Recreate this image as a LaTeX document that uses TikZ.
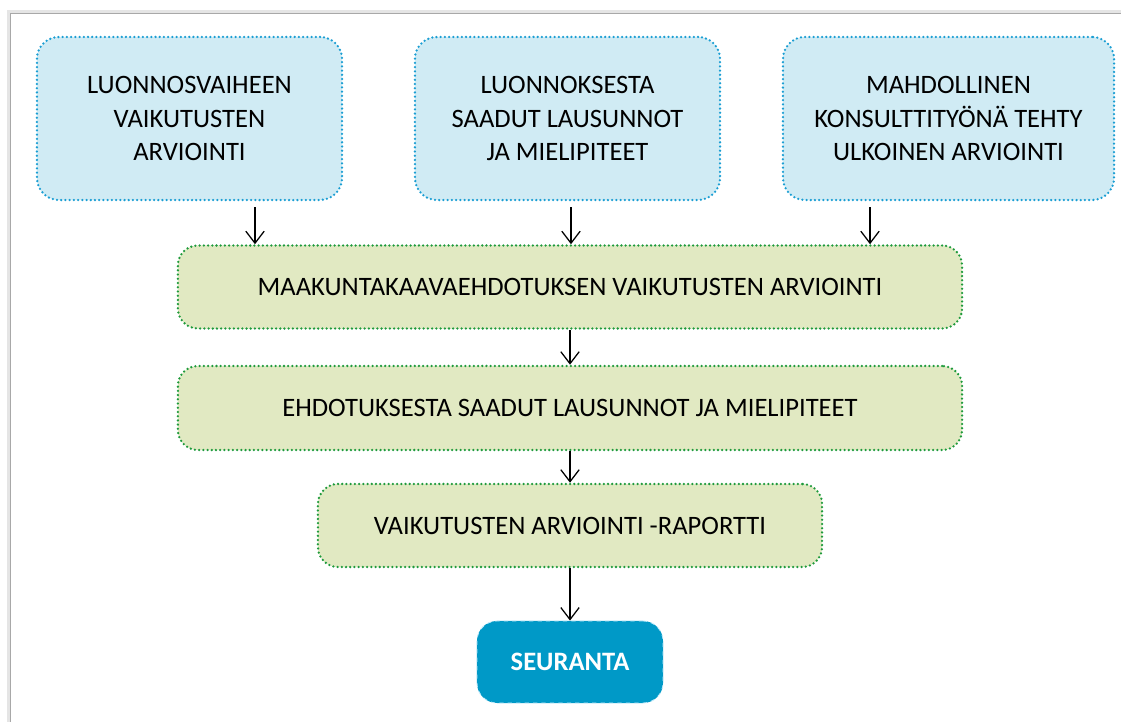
\documentclass[tikz,border=0pt]{standalone}
\usepackage{fontspec}
\setmainfont{Carlito}
\usetikzlibrary{arrows.meta}
\definecolor{inbox}{HTML}{D0EBF4}
\definecolor{indot}{HTML}{1A9ED3}
\definecolor{stepfill}{HTML}{E1E9C2}
\definecolor{stepdot}{HTML}{1E9A3C}
\definecolor{follow}{HTML}{0099C7}
\definecolor{frameg}{HTML}{A8A8A8}
\tikzset{
  >={Straight Barb[length=3mm, width=4.6mm]},
  dots/.style={line width=1.8pt, line cap=round, dash pattern=on 0pt off 3pt},
  inputbox/.style={draw=indot, dots, fill=inbox, rounded corners=0.55cm, align=center,
                   minimum width=7.625cm, minimum height=4.075cm, inner sep=2pt,
                   font=\fontsize{18.9}{24}\selectfont},
  stagebox/.style={draw=stepdot, dots, fill=stepfill, rounded corners=0.5cm, align=center,
                   minimum width=19.6cm, minimum height=2.075cm, inner sep=2pt,
                   font=\fontsize{18.9}{24}\selectfont},
  endbox/.style={draw=cyan!25, dashed, line width=0.6pt, fill=follow, text=white,
                 rounded corners=0.5cm, minimum width=4.65cm, minimum height=2.05cm,
                 font=\fontsize{18.9}{24}\selectfont\bfseries},
  l/.style={->, line width=0.9pt, draw=black},
}
\begin{document}
\begin{tikzpicture}[x=0.025cm, y=-0.025cm]
  \useasboundingbox (0,0) rectangle (1121,722);
  % page edge
  \draw[gray!20, line width=2.5pt] (8.5,722) -- (8.5,11.5) -- (1121,11.5);
  \draw[frameg, line width=0.7pt] (10,722) -- (10,13) -- (1121,13);
  % input boxes
  \node[inputbox] (luo) at (189.5,118.5) {LUONNOSVAIHEEN\\VAIKUTUSTEN\\ARVIOINTI};
  \node[inputbox] (lau) at (567.5,118.5) {LUONNOKSESTA\\SAADUT LAUSUNNOT\\JA MIELIPITEET};
  \node[inputbox, minimum width=8.275cm] (kon) at (948.5,118.5) {MAHDOLLINEN\\KONSULTTITYÖNÄ TEHTY\\ULKOINEN ARVIOINTI};
  % process chain
  \node[stagebox] (ehd) at (570,287) {MAAKUNTAKAAVAEHDOTUKSEN VAIKUTUSTEN ARVIOINTI};
  \node[stagebox, minimum height=2.1cm] (mie) at (570,408) {EHDOTUKSESTA SAADUT LAUSUNNOT JA MIELIPITEET};
  \node[stagebox, minimum width=12.6cm] (rap) at (570,525.5) {VAIKUTUSTEN ARVIOINTI -RAPORTTI};
  \node[endbox] (seu) at (570,662) {SEURANTA};
  \draw[l, shorten <=0.15cm] (luo.south -| 255,0) -- (ehd.north -| 255,0);
  \draw[l, shorten <=0.15cm] (lau.south -| 571,0) -- (ehd.north -| 571,0);
  \draw[l, shorten <=0.15cm] (kon.south -| 870,0) -- (ehd.north -| 870,0);
  \draw[l] (ehd) -- (mie);
  \draw[l] (mie) -- (rap);
  \draw[l] (rap) -- (seu);
\end{tikzpicture}
\end{document}
